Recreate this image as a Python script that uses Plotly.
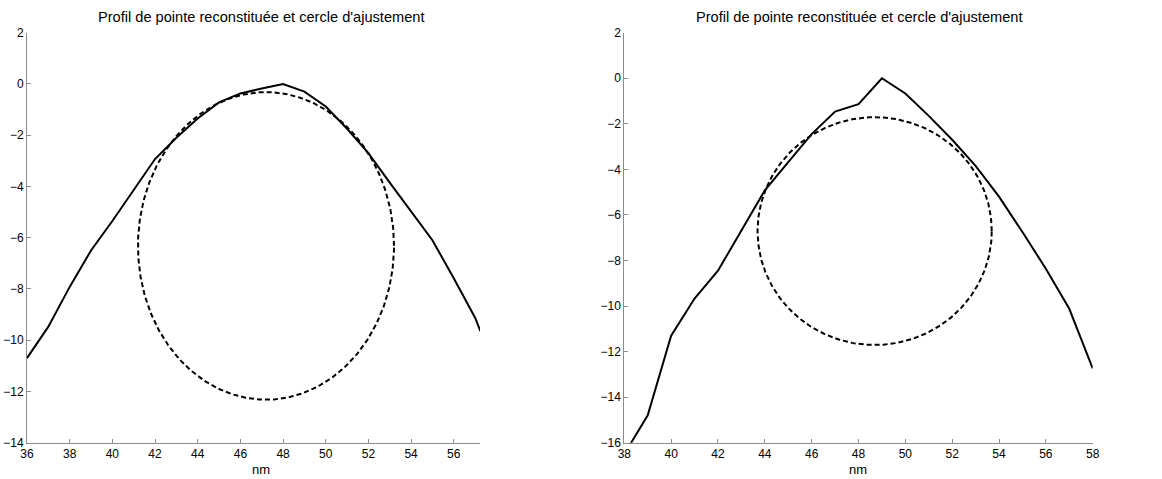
import numpy as np
import plotly.graph_objects as go

# ---- Data ----
title_text = "Profil de pointe reconstituée et cercle d'ajustement"
x_label = "nm"

# Left panel: reconstructed tip profile
left_x = [36, 37, 38, 39, 40, 41, 42, 43, 44, 45, 46, 47, 48, 49, 50, 51, 52,
          53, 54, 55, 56, 57, 57.25]
left_y = [-10.7, -9.47, -7.92, -6.5, -5.35, -4.15, -2.93, -2.1, -1.35, -0.72,
          -0.37, -0.18, 0.0, -0.3, -0.88, -1.75, -2.7, -3.85, -5.0, -6.1,
          -7.58, -9.12, -9.65]
# Left panel: fitted circle (centre, radius)
left_circle_center = (47.2, -6.32)
left_circle_radius = 6.0

# Right panel: reconstructed tip profile
right_x = [38, 39, 40, 41, 42, 43, 44, 45, 46, 47, 48, 49, 50, 51, 52, 53, 54,
           55, 56, 57, 58]
right_y = [-16.5, -14.8, -11.3, -9.67, -8.45, -6.7, -4.92, -3.68, -2.45,
           -1.46, -1.14, 0.0, -0.67, -1.65, -2.7, -3.85, -5.2, -6.75, -8.36,
           -10.12, -12.74]
# Right panel: fitted circle (centre, radius)
right_circle_center = (48.69, -6.71)
right_circle_radius = 5.0

left_xticks = list(range(36, 57, 2))
left_yticks = list(range(-14, 3, 2))
right_xticks = list(range(38, 59, 2))
right_yticks = list(range(-16, 3, 2))


def circle_points(center, radius, n=400):
    t = np.linspace(0, 2 * np.pi, n)
    return center[0] + radius * np.cos(t), center[1] + radius * np.sin(t)


W, H = 1162, 479
FONT = "Liberation Sans, Arial, sans-serif"

lcx, lcy = circle_points(left_circle_center, left_circle_radius)
rcx, rcy = circle_points(right_circle_center, right_circle_radius)

fig = go.Figure()
fig.add_trace(go.Scatter(x=left_x, y=left_y, mode="lines",
                         line=dict(color="black", width=2),
                         xaxis="x", yaxis="y", showlegend=False))
fig.add_trace(go.Scatter(x=lcx, y=lcy, mode="lines",
                         line=dict(color="black", width=2, dash="5px,3px"),
                         xaxis="x", yaxis="y", showlegend=False))
fig.add_trace(go.Scatter(x=right_x, y=right_y, mode="lines",
                         line=dict(color="black", width=2),
                         xaxis="x2", yaxis="y2", showlegend=False))
fig.add_trace(go.Scatter(x=rcx, y=rcy, mode="lines",
                         line=dict(color="black", width=2, dash="5px,3px"),
                         xaxis="x2", yaxis="y2", showlegend=False))

y_dom = [1 - 442.7 / H, 1 - 32.7 / H]
axis_common = dict(showgrid=False, zeroline=False, showline=True,
                   linecolor="#8c8c8c", linewidth=1, ticks="inside",
                   ticklen=4, tickcolor="#8c8c8c", mirror=False,
                   tickfont=dict(family=FONT, size=12, color="black"))

fig.update_layout(
    width=W, height=H,
    margin=dict(l=0, r=0, t=0, b=0, autoexpand=False),
    paper_bgcolor="white", plot_bgcolor="white",
    xaxis=dict(domain=[27 / W, 480 / W], range=[36, 57.23],
               tickvals=left_xticks, anchor="y", **axis_common),
    yaxis=dict(domain=y_dom, range=[-14, 2], tickvals=left_yticks,
               anchor="x", **axis_common),
    xaxis2=dict(domain=[624.3 / W, 1092.7 / W], range=[38, 58],
                tickvals=right_xticks, anchor="y2", **axis_common),
    yaxis2=dict(domain=y_dom, range=[-16, 2], tickvals=right_yticks,
                anchor="x2", **axis_common),
)

for cx in (260.8, 858.5):
    fig.add_annotation(text=title_text, xref="paper", yref="paper",
                       x=cx / W, y=1 - 17.3 / H, xanchor="center",
                       yanchor="middle", showarrow=False,
                       font=dict(family=FONT, size=14.6, color="black"))
for cx in (261.0, 857.7):
    fig.add_annotation(text=x_label, xref="paper", yref="paper",
                       x=cx / W, y=1 - 469.3 / H, xanchor="center",
                       yanchor="middle", showarrow=False,
                       font=dict(family=FONT, size=13, color="black"))

fig.write_html(
    "out.html",
    config={"displayModeBar": False},
    post_script="document.body.style.margin='0';"
                "document.documentElement.style.overflow='hidden';",
)
